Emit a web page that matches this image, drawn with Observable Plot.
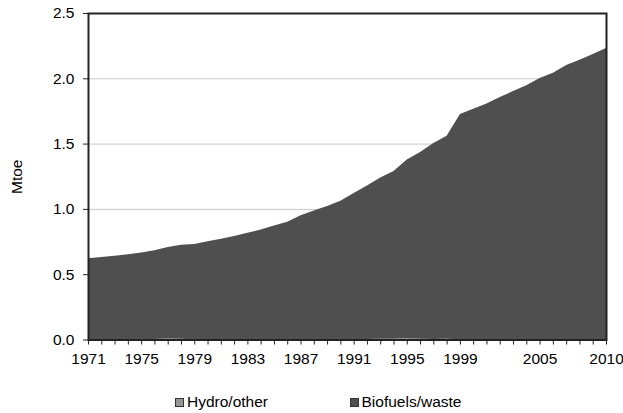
<!DOCTYPE html>
<html>
<head>
<meta charset="utf-8">
<script src="https://cdn.jsdelivr.net/npm/d3@7"></script>
<script src="https://cdn.jsdelivr.net/npm/@observablehq/plot@0.6"></script>
<style>
  body { margin: 0; background: #fff; font-family: "Liberation Sans", Arial, sans-serif; }
  #chart svg { display: block; }
  .legend { position: relative; width: 623px; height: 28px; font-size: 15.5px; color: #000; }
  .legend .item { position: absolute; top: 8px; display: flex; align-items: center; white-space: nowrap; }
  .legend .sw { width: 7px; height: 7px; border: 1px solid #333; margin-right: 3px; }
</style>
</head>
<body>
<div id="chart"></div>
<div class="legend" id="legend"></div>
<script>
const years = [1971,1972,1973,1974,1975,1976,1977,1978,1979,1980,1981,1982,1983,1984,1985,1986,1987,1988,1989,1990,1991,1992,1993,1994,1995,1996,1997,1998,1999,2000,2001,2002,2003,2004,2005,2006,2007,2008,2009,2010];
const biofuels = [0.62,0.63,0.64,0.65,0.665,0.68,0.70,0.72,0.73,0.75,0.77,0.79,0.815,0.84,0.87,0.90,0.95,0.985,1.02,1.06,1.12,1.175,1.235,1.285,1.37,1.43,1.50,1.555,1.725,1.765,1.805,1.855,1.90,1.945,2.00,2.04,2.10,2.14,2.185,2.23];
const hydro = [0.002,0.002,0.002,0.002,0.002,0.004,0.008,0.006,0.002,0.002,0.002,0.002,0.002,0.002,0.002,0.002,0.002,0.002,0.002,0.002,0.002,0.004,0.006,0.005,0.009,0.006,0.004,0.005,0.002,0.002,0.002,0.002,0.002,0.002,0.002,0.002,0.002,0.002,0.002,0.002];
const seriesNames = ["Hydro/other", "Biofuels/waste"];
const seriesColors = ["#969696", "#4f4f4f"];
const xLabels = [1971,1975,1979,1983,1987,1991,1995,1999,2005,2010];
const yTicks = [0, 0.5, 1.0, 1.5, 2.0, 2.5];
const gridValues = [0.5, 1.0, 1.5, 2.0];

const rows = [];
years.forEach((yr, i) => {
  rows.push({year: yr, series: seriesNames[0], value: hydro[i]});
  rows.push({year: yr, series: seriesNames[1], value: biofuels[i]});
});

const font = "'Liberation Sans', Arial, sans-serif";

const chart = Plot.plot({
  width: 623,
  height: 385,
  marginLeft: 88,
  marginRight: 17,
  marginTop: 13,
  marginBottom: 45.5,
  style: {fontFamily: font, fontSize: "15.5px", color: "#000", background: "#fff"},
  x: {domain: [1971, 2010]},
  y: {domain: [0, 2.5]},
  color: {domain: seriesNames, range: seriesColors},
  marks: [
    Plot.ruleY(gridValues, {stroke: "#c8c8c8", strokeWidth: 1}),
    Plot.areaY(rows, {x: "year", y: "value", fill: "series", order: seriesNames}),
    Plot.frame({stroke: "#222", strokeWidth: 2}),
    Plot.axisY({ticks: yTicks, tickFormat: d3.format(".1f"), tickSize: 5, tickPadding: 9, label: null, stroke: "#222"}),
    Plot.axisX({ticks: years, tickFormat: d => xLabels.includes(d) ? String(d) : "", tickSize: 5, tickPadding: 8, label: null, stroke: "#222"}),
    Plot.text(["Mtoe"], {frameAnchor: "left", textAnchor: "middle", lineAnchor: "middle", rotate: -90, dx: -71, fontSize: 15.5, fill: "#000"})
  ]
});
document.getElementById("chart").appendChild(chart);

const legend = document.getElementById("legend");
const legendLeft = [175, 349.5];
seriesNames.forEach((name, i) => {
  const item = document.createElement("div");
  item.className = "item";
  item.style.left = legendLeft[i] + "px";
  const sw = document.createElement("span");
  sw.className = "sw";
  sw.style.background = seriesColors[i];
  const label = document.createElement("span");
  label.textContent = name;
  item.appendChild(sw);
  item.appendChild(label);
  legend.appendChild(item);
});
</script>
</body>
</html>
